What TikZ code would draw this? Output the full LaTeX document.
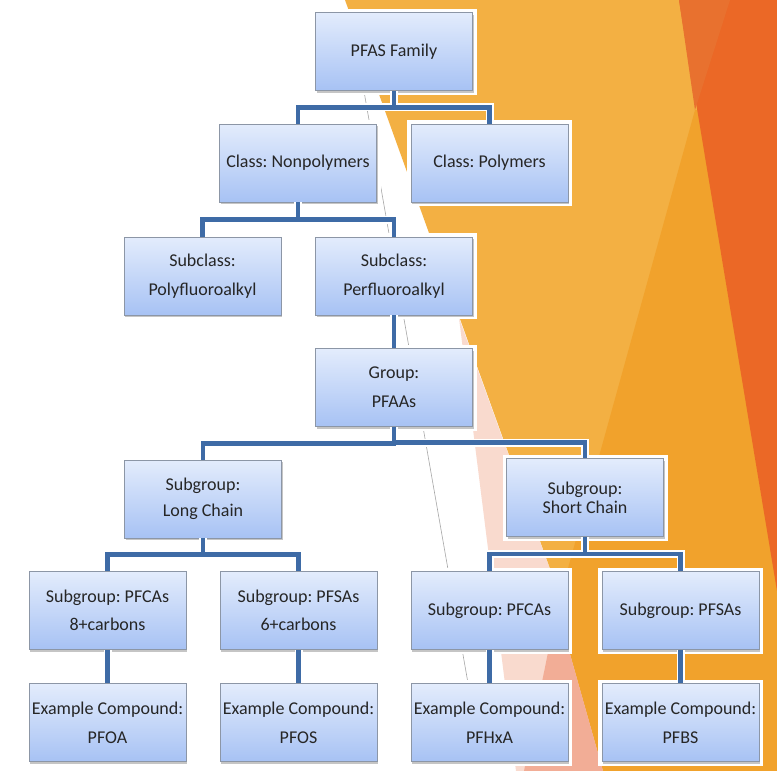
\documentclass[tikz,border=0pt]{standalone}
\usepackage{fontspec}
\setmainfont{Carlito}
\usepackage{xcolor}
\usepackage{tikz}
\usetikzlibrary{positioning,calc,shadows}
\frenchspacing

\definecolor{lorange}{HTML}{F3B043}
\definecolor{morange}{HTML}{F1A22C}
\definecolor{dorange}{HTML}{EB6826}
\definecolor{rorange}{HTML}{E8712F}
\definecolor{lpink}{HTML}{F9DACE}
\definecolor{salmon}{HTML}{F2AD96}
\definecolor{boxtop}{HTML}{E3ECFC}
\definecolor{boxbot}{HTML}{A7C2F4}
\definecolor{boxline}{HTML}{8C96A6}
\definecolor{linkblue}{HTML}{3E6BA6}
\definecolor{txt}{HTML}{262626}

\tikzset{
  box/.style={rectangle, minimum width=157pt, minimum height=78pt, inner sep=0pt,
    align=center, text=txt, font=\fontsize{18}{29}\selectfont,
    draw=boxline, line width=0.9pt, top color=boxtop, bottom color=boxbot,
    preaction={draw=white, line width=8pt},
    drop shadow={shadow xshift=1pt, shadow yshift=-2pt, opacity=0.45}},
  halo/.style={draw=white, line width=8pt},
  link/.style={draw=linkblue, line width=4.6pt}
}

\begin{document}
\begin{tikzpicture}[x=1pt,y=-1pt]
    \useasboundingbox (0,0) rectangle (777,771);

    % Background
    \fill[white] (0,0) rectangle (777,771);
    \fill[lpink] (459,318) -- (623,771) -- (516,771) -- cycle;
    \fill[lorange] (345,0) -- (777,0) -- (777,771) -- (623,771) -- cycle;
    \fill[morange] (695,110) -- (777,110) -- (777,771) -- (603,771) -- (557,608) -- cycle;
    \fill[dorange] (679,0) -- (777,0) -- (777,591) -- cycle;
    \fill[rorange] (679,0) -- (730,0) -- (695,110) -- cycle;
    \fill[salmon] (557,608) -- (603,771) -- (524,771) -- cycle;
    \draw[black!35, line width=0.6pt] (362,80) -- (478,740);

    % Family and classes
    \node[box] (fam) at (394,51.5) {PFAS Family};
    \node[box] (ncl) at (298,163) {Class: Nonpolymers};
    \node[box] (pol) at (489.5,163) {Class: Polymers};

    % Subclasses
    \node[box] (pfl) at (202.5,276) {Subclass:\\Polyfluoroalkyl};
    \node[box] (pfa) at (394,276) {Subclass:\\Perfluoroalkyl};

    % Group
    \node[box] (grp) at (394,387.5) {Group:\\PFAAs};

    % Subgroups by chain length
    \node[box] (lng) at (203,499) {Subgroup:\\[-3pt]Long Chain};
    \node[box] (sht) at (585,497.5) {Subgroup:\\[-10pt]Short Chain};

    % Subgroups by acid
    \node[box] (ca8) at (107.5,610.5) {Subgroup: PFCAs\\[-1pt]8+carbons};
    \node[box] (sa6) at (298.5,610.5) {Subgroup: PFSAs\\[-1pt]6+carbons};
    \node[box] (cas) at (489.5,610.5) {Subgroup: PFCAs};
    \node[box] (sas) at (680.5,610.5) {Subgroup: PFSAs};

    % Example compounds
    \node[box] (oa) at (107.5,722.5) {Example Compound:\\PFOA};
    \node[box] (os) at (298.5,722.5) {Example Compound:\\PFOS};
    \node[box] (hx) at (489.5,722.5) {Example Compound:\\PFHxA};
    \node[box] (bs) at (680.5,722.5) {Example Compound:\\PFBS};

    % Connectors
    \foreach \sty in {halo,link}
      \foreach \a/\b in {fam/ncl,fam/pol,ncl/pfl,ncl/pfa,pfa/grp,grp/lng,grp/sht,
          lng/ca8,lng/sa6,sht/cas,sht/sas,ca8/oa,sa6/os,cas/hx,sas/bs}
        \draw[\sty] (\a.south) |- ($(\a.south)!.5!(\b.north)$) -| (\b.north);
\end{tikzpicture}
\end{document}
